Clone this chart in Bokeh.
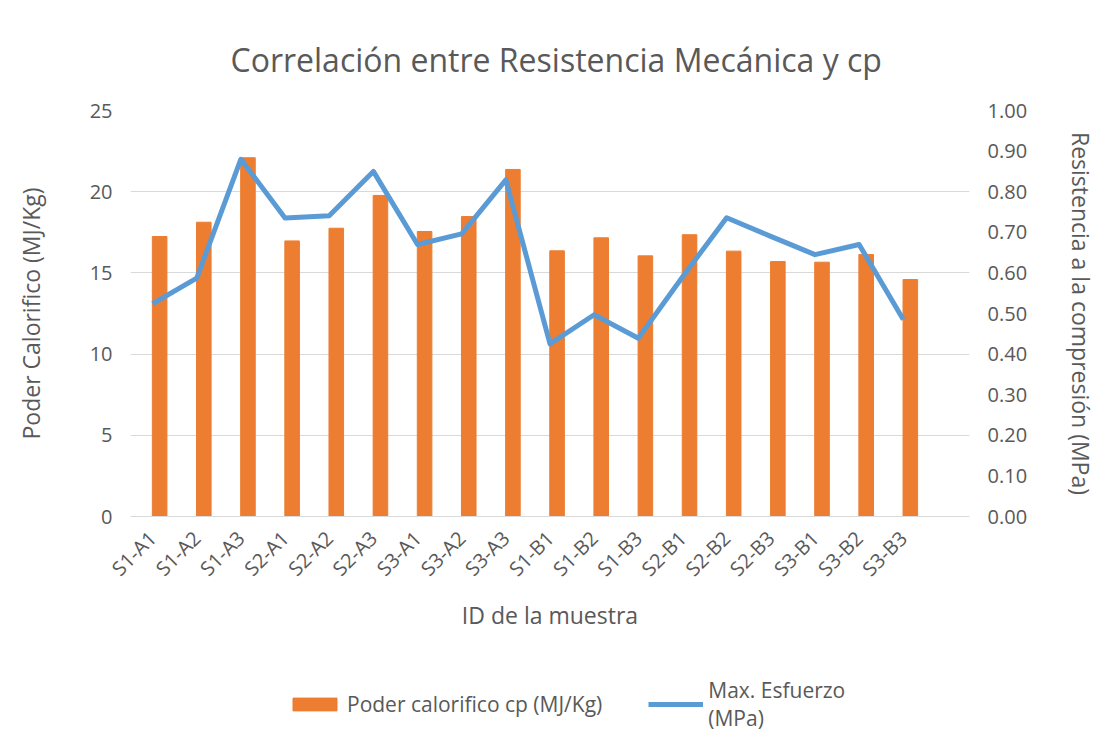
import numpy as np
from bokeh.plotting import figure
from bokeh.layouts import column
from bokeh.models import (Range1d, LinearAxis, FixedTicker, Legend, LegendItem,
                          ColumnDataSource, FactorRange, NumeralTickFormatter)
from bokeh.transform import dodge
from bokeh.embed import file_html
from bokeh.resources import INLINE

samples = ["S1-A1", "S1-A2", "S1-A3", "S2-A1", "S2-A2", "S2-A3", "S3-A1", "S3-A2", "S3-A3",
           "S1-B1", "S1-B2", "S1-B3", "S2-B1", "S2-B2", "S2-B3", "S3-B1", "S3-B2", "S3-B3"]
poder_calorifico = [17.24, 18.12, 22.09, 16.97, 17.75, 19.77, 17.55, 18.47, 21.37,
                    16.36, 17.16, 16.05, 17.35, 16.34, 15.70, 15.66, 16.13, 14.59]
max_esfuerzo = [0.524, 0.587, 0.880, 0.735, 0.741, 0.850, 0.670, 0.696, 0.829,
                0.425, 0.497, 0.439, 0.590, 0.736, 0.690, 0.645, 0.670, 0.485]
left_ticks = [0, 5, 10, 15, 20, 25]
right_ticks = [0.0, 0.1, 0.2, 0.3, 0.4, 0.5, 0.6, 0.7, 0.8, 0.9, 1.0]
series_names = ["Poder calorifico cp (MJ/Kg)", "Max. Esfuerzo\n(MPa)"]

FONT = "Open Sans"
GREY = "#595959"
GRID = "#d9d9d9"
BAR_COLOR = "#ED7D31"
LINE_COLOR = "#5B9BD5"

factors = samples + [" "]
src = ColumnDataSource(dict(sample=samples, cp=poder_calorifico, esf=max_esfuerzo))

W = 1100
p = figure(width=W, height=660, x_range=FactorRange(*factors),
           y_range=Range1d(0, 25), output_backend="svg", toolbar_location=None,
           min_border_left=130, min_border_right=W - 972, min_border_top=110,
           min_border_bottom=144)
p.extra_y_ranges = {"mpa": Range1d(0, 1)}
p.outline_line_color = None
p.background_fill_color = "white"
p.border_fill_color = "white"

p.title.text = "Correlación entre Resistencia Mecánica y cp"
p.title.text_font = FONT
p.title.text_font_size = "32px"
p.title.text_font_style = "normal"
p.title.text_color = GREY
p.title.align = "left"
p.title.offset = 100
p.title.standoff = 59

bars = p.vbar(x=dodge("sample", 0.16, range=p.x_range), top="cp", width=0.33,
              source=src, color=BAR_COLOR)
ln = p.line(x="sample", y="esf", source=src, y_range_name="mpa",
            line_color=LINE_COLOR, line_width=5, line_join="round")

ya = p.yaxis[0]
ya.ticker = FixedTicker(ticks=left_ticks)
ya.axis_label = "Poder Calorifico (MJ/Kg)"
ra = LinearAxis(y_range_name="mpa", ticker=FixedTicker(ticks=right_ticks),
                formatter=NumeralTickFormatter(format="0.00"),
                axis_label="Resistencia a la compresión (MPa)")
p.add_layout(ra, "right")

for ax in (ya, ra):
    ax.axis_line_color = None
    ax.major_tick_line_color = None
    ax.minor_tick_line_color = None
    ax.major_label_text_font = FONT
    ax.major_label_text_font_size = "20px"
    ax.major_label_text_color = GREY
    ax.axis_label_text_font = FONT
    ax.axis_label_text_font_size = "23px"
    ax.axis_label_text_font_style = "normal"
    ax.axis_label_text_color = GREY
ya.major_label_standoff = 12
ra.major_label_standoff = 12
ya.axis_label_standoff = 40
ra.axis_label_standoff = 35

xa = p.xaxis[0]
xa.axis_label = "ID de la muestra"
xa.axis_line_color = GRID
xa.major_tick_line_color = None
xa.minor_tick_line_color = None
xa.major_label_orientation = np.pi / 4
xa.major_label_text_font = FONT
xa.major_label_text_font_size = "20px"
xa.major_label_text_color = GREY
xa.major_label_standoff = 12
xa.axis_label_text_font = FONT
xa.axis_label_text_font_size = "23px"
xa.axis_label_text_font_style = "normal"
xa.axis_label_text_color = GREY
xa.axis_label_standoff = 5

p.xgrid.grid_line_color = None
p.ygrid.grid_line_color = GRID
p.ygrid.ticker = FixedTicker(ticks=left_ticks)

# legend strip underneath the chart (its frame is aligned with the chart frame)
lg = figure(width=W, height=90, x_range=Range1d(0, 1), y_range=Range1d(0, 1),
            output_backend="svg", toolbar_location=None,
            min_border_left=0, min_border_right=0, min_border_top=0,
            min_border_bottom=0, outline_line_color=None)
lg.axis.visible = False
lg.grid.visible = False
off = ColumnDataSource(dict(x=[-5], y=[-5], top=[-5]))
lbar = lg.vbar(x="x", top="top", width=0.1, source=off, color=BAR_COLOR)
lline = lg.line(x="x", y="y", source=off, line_color=LINE_COLOR, line_width=5)
legend = Legend(items=[LegendItem(label=series_names[0], renderers=[lbar]),
                       LegendItem(label=series_names[1], renderers=[lline])],
                orientation="horizontal", location=(157, 18),
                label_text_font=FONT, label_text_font_size="21px",
                label_text_color=GREY, border_line_color=None,
                background_fill_alpha=0, glyph_width=55, glyph_height=16,
                spacing=46, label_standoff=5, margin=0, padding=0)
lg.add_layout(legend, "center")

layout = column(p, lg, spacing=0)
open("out.html", "w").write(file_html(layout, INLINE))
